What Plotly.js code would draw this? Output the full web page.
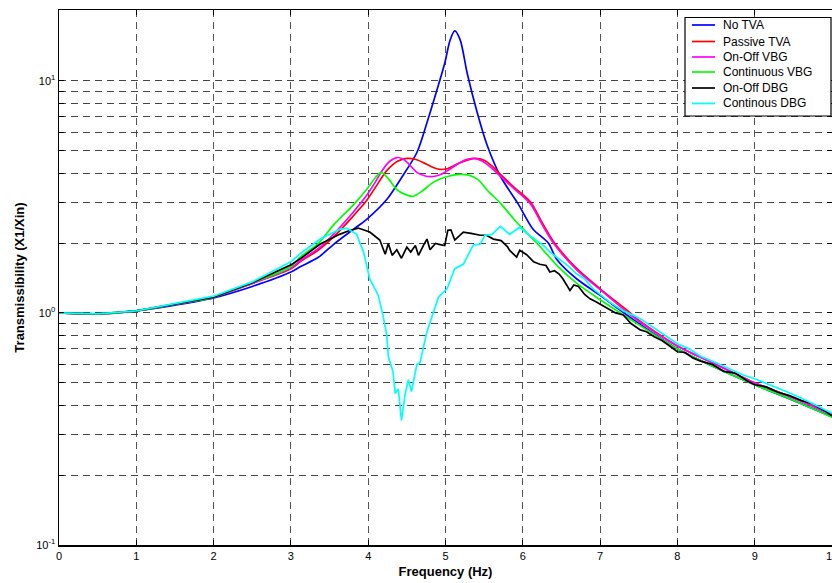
<!DOCTYPE html>
<html>
<head>
<meta charset="utf-8">
<script src="https://cdn.plot.ly/plotly-3.0.1.min.js"></script>
<style>html,body{margin:0;padding:0;background:#fff;}#chart{width:832px;height:583px;}</style>
</head>
<body>
<div id="chart"></div>
<script>
// ---- Data ----
const seriesNames = ["No TVA", "Passive TVA", "On-Off VBG", "Continuous VBG", "On-Off DBG", "Continous DBG"];

const noTvaX = [0, 0.5, 1.0, 1.5, 2.0, 2.5, 3.0, 3.12, 3.36, 3.55, 3.8, 3.98, 4.24, 4.45, 4.63, 4.76, 4.89, 4.99, 5.06, 5.12, 5.19, 5.28, 5.41, 5.54, 5.71, 5.94, 6.13, 6.33, 6.44, 6.7, 7.0, 7.5, 8.0, 8.5, 9.0, 9.5, 10];
const noTvaY = [1.0, 0.99, 1.02, 1.08, 1.16, 1.30, 1.50, 1.58, 1.74, 1.97, 2.28, 2.53, 3.08, 3.91, 4.91, 6.6, 9.15, 11.9, 15.0, 16.4, 15.0, 10.8, 7.3, 5.26, 3.88, 2.95, 2.3, 2.0, 1.7, 1.4, 1.19, 0.90, 0.70, 0.58, 0.49, 0.42, 0.357];

const passiveX = [0, 0.5, 1.0, 1.5, 2.0, 2.5, 3.0, 3.12, 3.36, 3.55, 3.8, 3.98, 4.1, 4.24, 4.38, 4.5, 4.62, 4.75, 4.85, 4.93, 5.02, 5.15, 5.28, 5.38, 5.5, 5.6, 5.71, 5.9, 6.1, 6.25, 6.41, 6.7, 7.0, 7.39, 7.5, 8.0, 8.5, 9.0, 9.5, 10];
const passiveY = [1.0, 0.99, 1.02, 1.09, 1.17, 1.34, 1.55, 1.66, 1.87, 2.12, 2.6, 3.05, 3.5, 4.1, 4.5, 4.63, 4.58, 4.38, 4.22, 4.15, 4.18, 4.38, 4.55, 4.63, 4.55, 4.3, 3.95, 3.45, 3.0, 2.45, 2.0, 1.55, 1.27, 1.0, 0.93, 0.72, 0.6, 0.5, 0.43, 0.365];

const onOffVbgX = [0, 0.5, 1.0, 1.5, 2.0, 2.5, 3.0, 3.12, 3.36, 3.55, 3.8, 3.98, 4.1, 4.19, 4.28, 4.37, 4.45, 4.52, 4.63, 4.75, 4.84, 4.92, 5.0, 5.15, 5.25, 5.36, 5.48, 5.6, 5.71, 5.9, 6.1, 6.25, 6.41, 6.7, 7.0, 7.5, 8.0, 8.5, 9.0, 9.5, 10];
const onOffVbgY = [1.0, 0.99, 1.02, 1.09, 1.17, 1.34, 1.56, 1.68, 1.9, 2.18, 2.7, 3.21, 3.7, 4.15, 4.5, 4.67, 4.6, 4.4, 4.03, 3.88, 3.87, 3.93, 4.05, 4.36, 4.55, 4.63, 4.5, 4.2, 3.88, 3.4, 2.95, 2.4, 1.97, 1.53, 1.26, 0.92, 0.72, 0.6, 0.5, 0.43, 0.365];

const contVbgX = [0, 0.5, 1.0, 1.5, 2.0, 2.5, 3.0, 3.12, 3.36, 3.55, 3.8, 3.98, 4.1, 4.17, 4.27, 4.37, 4.47, 4.58, 4.7, 4.84, 5.0, 5.19, 5.3, 5.42, 5.55, 5.71, 5.9, 6.18, 6.46, 6.7, 7.0, 7.5, 8.0, 8.5, 9.0, 9.5, 10];
const contVbgY = [1.0, 0.99, 1.02, 1.09, 1.17, 1.35, 1.58, 1.74, 2.0, 2.39, 2.9, 3.4, 3.85, 4.03, 3.75, 3.4, 3.25, 3.18, 3.35, 3.65, 3.85, 3.95, 3.92, 3.75, 3.35, 2.97, 2.5, 2.0, 1.58, 1.34, 1.14, 0.89, 0.70, 0.58, 0.49, 0.42, 0.355];

const onOffDbgX = [0, 0.5, 1.0, 1.5, 2.0, 2.5, 3.0, 3.12, 3.38, 3.63, 3.75, 3.87, 4.02, 4.15, 4.22, 4.26, 4.31, 4.37, 4.43, 4.5, 4.55, 4.61, 4.65, 4.72, 4.76, 4.8, 4.87, 4.93, 4.99, 5.03, 5.07, 5.12, 5.23, 5.33, 5.45, 5.53, 5.62, 5.72, 5.8, 5.83, 5.92, 5.96, 6.05, 6.14, 6.22, 6.3, 6.35, 6.41, 6.47, 6.52, 6.61, 6.66, 6.72, 6.8, 6.87, 6.94, 7.0, 7.07, 7.13, 7.2, 7.3, 7.4, 7.52, 7.6, 7.7, 7.8, 7.9, 8.0, 8.1, 8.2, 8.3, 8.45, 8.6, 8.75, 8.9, 9.0, 9.15, 9.3, 9.45, 9.6, 9.75, 9.9, 10];
const onOffDbgY = [1.0, 0.99, 1.02, 1.09, 1.17, 1.35, 1.61, 1.71, 1.98, 2.18, 2.26, 2.32, 2.23, 2.06, 1.79, 1.99, 1.77, 1.87, 1.72, 1.92, 1.83, 1.95, 1.77, 1.97, 2.08, 1.87, 1.99, 1.97, 1.95, 2.27, 2.28, 2.06, 2.23, 2.2, 2.16, 2.16, 2.08, 2.05, 1.93, 1.86, 1.74, 1.86, 1.78, 1.66, 1.62, 1.6, 1.5, 1.52, 1.47, 1.40, 1.25, 1.32, 1.3, 1.2, 1.15, 1.12, 1.09, 1.06, 1.03, 1.0, 0.98, 0.9, 0.845, 0.83, 0.79, 0.76, 0.72, 0.68, 0.675, 0.64, 0.62, 0.6, 0.56, 0.55, 0.51, 0.49, 0.48, 0.455, 0.44, 0.42, 0.405, 0.38, 0.36];

const contDbgX = [0, 0.5, 1.0, 1.5, 2.0, 2.5, 3.0, 3.12, 3.38, 3.63, 3.72, 3.85, 3.94, 4.02, 4.13, 4.19, 4.24, 4.26, 4.32, 4.35, 4.39, 4.43, 4.48, 4.52, 4.56, 4.63, 4.67, 4.76, 4.84, 4.91, 5.02, 5.12, 5.23, 5.29, 5.36, 5.45, 5.51, 5.6, 5.71, 5.83, 5.96, 6.05, 6.13, 6.27, 6.35, 6.48, 6.57, 6.7, 6.8, 6.91, 7.0, 7.13, 7.3, 7.45, 7.55, 7.7, 7.85, 8.0, 8.15, 8.3, 8.5, 8.7, 8.85, 9.0, 9.2, 9.4, 9.6, 9.8, 10];
const contDbgY = [1.0, 0.99, 1.02, 1.1, 1.18, 1.36, 1.66, 1.8, 2.08, 2.29, 2.32, 2.18, 1.83, 1.40, 1.19, 0.98, 0.80, 0.65, 0.56, 0.45, 0.47, 0.344, 0.45, 0.515, 0.458, 0.60, 0.61, 0.83, 1.01, 1.17, 1.27, 1.55, 1.62, 1.77, 1.96, 1.98, 2.16, 2.18, 2.36, 2.18, 2.34, 2.2, 2.1, 1.95, 1.83, 1.7, 1.61, 1.47, 1.4, 1.27, 1.2, 1.11, 1.02, 0.97, 0.93, 0.86, 0.8, 0.736, 0.7, 0.65, 0.61, 0.57, 0.54, 0.52, 0.49, 0.46, 0.43, 0.4, 0.37];

const seriesX = [noTvaX, passiveX, onOffVbgX, contVbgX, onOffDbgX, contDbgX];
const seriesY = [noTvaY, passiveY, onOffVbgY, contVbgY, onOffDbgY, contDbgY];
const seriesColors = ["#0000ff", "#ff0000", "#ff00ff", "#00ff00", "#000000", "#00ffff"];
const smoothSeries = [true, true, true, true, false, false];

const xTickVals = [0, 1, 2, 3, 4, 5, 6, 7, 8, 9, 10];
const yTickVals = [0.1, 0.2, 0.3, 0.4, 0.5, 0.6, 0.7, 0.8, 0.9, 1, 2, 3, 4, 5, 6, 7, 8, 9, 10];
const yTickText = ["10<sup>-1</sup>", "", "", "", "", "", "", "", "", "10<sup>0</sup>", "", "", "", "", "", "", "", "", "10<sup>1</sup>"];

// ---- Geometry helpers (pixel -> paper fractions of the plot area) ----
const W = 832, H = 583, ML = 59, MR = 0, MT = 10, MB = 38;
const plotW = W - ML - MR, plotH = H - MT - MB;
const px = v => (v - ML) / plotW;
const py = v => (H - MB - v) / plotH;

// ---- Traces ----
const traces = seriesNames.map((name, i) => ({
  type: "scatter",
  mode: "lines",
  name: name,
  x: seriesX[i],
  y: seriesY[i],
  line: {color: seriesColors[i], width: 1.7, shape: smoothSeries[i] ? "spline" : "linear", smoothing: 0.8},
  showlegend: false
}));

const font = "Arial, 'Liberation Sans', Helvetica, sans-serif";

// ---- Legend drawn as a boxed key (MATLAB style) ----
const legendRowsY = [25, 41.5, 57, 72, 88, 103.5];
const shapes = [{
  type: "rect", xref: "paper", yref: "paper",
  x0: px(685), x1: px(831), y0: py(116), y1: py(17.5),
  line: {color: "#000", width: 1.2}, fillcolor: "#fff", layer: "above"
}];
const annotations = [];
seriesNames.forEach((name, i) => {
  shapes.push({
    type: "line", xref: "paper", yref: "paper",
    x0: px(692), x1: px(715), y0: py(legendRowsY[i]), y1: py(legendRowsY[i]),
    line: {color: seriesColors[i], width: 1.7}, layer: "above"
  });
  annotations.push({
    xref: "paper", yref: "paper", x: px(721), y: py(legendRowsY[i]),
    xanchor: "left", yanchor: "middle", showarrow: false,
    text: name, font: {family: font, size: 12, color: "#000"}
  });
});

const layout = {
  width: W,
  height: H,
  margin: {l: ML, r: MR, t: MT, b: MB},
  paper_bgcolor: "#ffffff",
  plot_bgcolor: "#ffffff",
  showlegend: false,
  font: {family: font, size: 11, color: "#000"},
  shapes: shapes,
  annotations: annotations,
  xaxis: {
    range: [0, 10],
    tickvals: xTickVals,
    ticktext: xTickVals.map(String),
    ticks: "inside",
    ticklen: 5,
    tickcolor: "#000",
    showline: true,
    linecolor: "#000",
    linewidth: 1.5,
    mirror: "allticks",
    showgrid: true,
    gridcolor: "#555",
    gridwidth: 1,
    griddash: "7px,5px",
    zeroline: false,
    ticklabeloverflow: "allow",
    tickfont: {family: font, size: 11, color: "#000"},
    title: {text: "<b>Frequency (Hz)</b>", font: {family: font, size: 13, color: "#000"}, standoff: 6}
  },
  yaxis: {
    type: "log",
    range: [-1, 1.305],
    tickvals: yTickVals,
    ticktext: yTickText,
    ticks: "inside",
    ticklen: 5,
    tickcolor: "#000",
    showline: true,
    linecolor: "#000",
    linewidth: 1.5,
    mirror: "allticks",
    showgrid: true,
    gridcolor: "#444",
    gridwidth: 1,
    griddash: "7px,5px",
    zeroline: false,
    ticklabeloverflow: "allow",
    tickfont: {family: font, size: 11, color: "#000"},
    title: {text: "<b>Transmissibility (X1/Xin)</b>", font: {family: font, size: 13, color: "#000"}, standoff: 8}
  }
};

Plotly.newPlot("chart", traces, layout, {staticPlot: true, displayModeBar: false});
</script>
</body>
</html>
